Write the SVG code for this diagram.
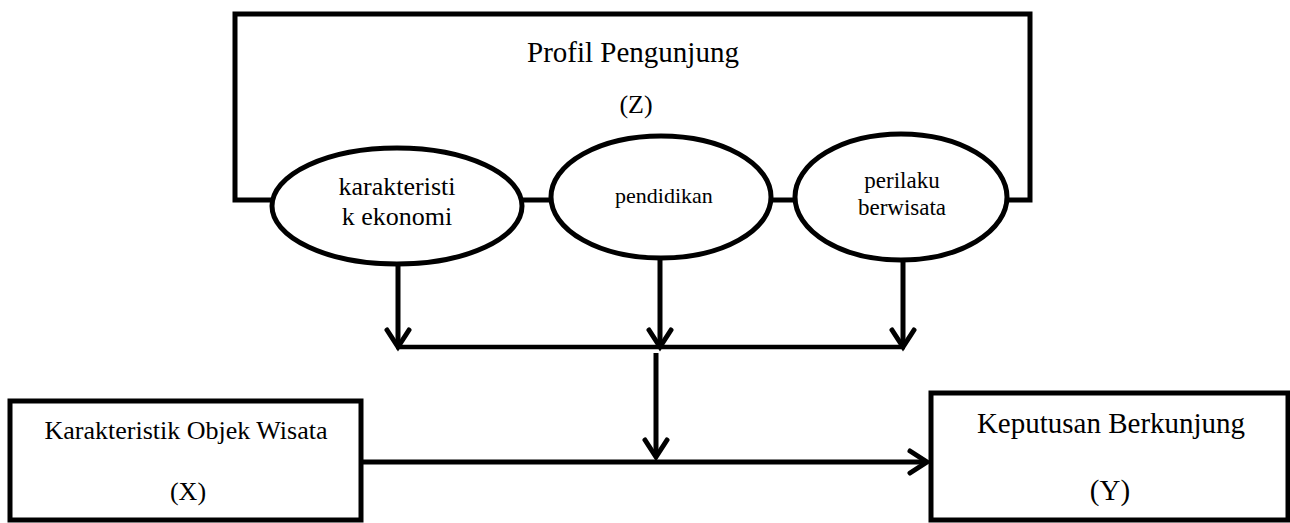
<svg xmlns="http://www.w3.org/2000/svg" width="1290" height="523" viewBox="0 0 1290 523">
<style>
.ln{fill:none;stroke:#000;stroke-width:5}
.shape{fill:#fff;stroke:#000;stroke-width:5}
text{font-family:"Liberation Serif","Times New Roman",serif;fill:#000;text-anchor:middle}
</style>
<defs>
<marker id="arr" markerUnits="userSpaceOnUse" markerWidth="40" markerHeight="40" viewBox="-25 -20 40 40" refX="0" refY="0" orient="auto" overflow="visible">
<path d="M-17,-11 L0,0 L-17,11" fill="none" stroke="#000" stroke-width="5" stroke-linecap="round" stroke-linejoin="miter"/>
</marker>
</defs>
<rect width="1290" height="523" fill="#fff"/>
<g id="connectors">
<path class="ln" d="M272,200 L235,200 L235,14 L1030,14 L1030,200 L1006,200"/>
<path class="ln" d="M521,200 L552,200"/>
<path class="ln" d="M770,200 L797,200"/>
<path class="ln" d="M398,263 L398,347" marker-end="url(#arr)"/>
<path class="ln" d="M660,257 L660,347" marker-end="url(#arr)"/>
<path class="ln" d="M903,259 L903,347" marker-end="url(#arr)"/>
<path class="ln" d="M396,347 L905,347" style="stroke-width:4.5"/>
<path class="ln" d="M656,353 L656,457" marker-end="url(#arr)"/>
<path class="ln" d="M363,462 L927,462" marker-end="url(#arr)"/>
</g>
<g id="profil">
<text x="633" y="62" font-size="29">Profil Pengunjung</text>
<text x="636" y="113" font-size="26">(Z)</text>
</g>
<g id="ekonomi">
<ellipse class="shape" cx="397" cy="206" rx="125" ry="58"/>
<text x="397" y="195" font-size="26">karakteristi</text>
<text x="397" y="225" font-size="26">k ekonomi</text>
</g>
<g id="pendidikan">
<ellipse class="shape" cx="661" cy="197" rx="110" ry="61"/>
<text x="664" y="203" font-size="22">pendidikan</text>
</g>
<g id="perilaku">
<ellipse class="shape" cx="901" cy="197" rx="106" ry="63"/>
<text x="902" y="188" font-size="23">perilaku</text>
<text x="902" y="215" font-size="23">berwisata</text>
</g>
<g id="objek">
<rect class="shape" x="10" y="401" width="351" height="119"/>
<text x="186" y="439" font-size="26">Karakteristik Objek Wisata</text>
<text x="188" y="500" font-size="26">(X)</text>
</g>
<g id="keputusan">
<rect class="shape" x="931" y="393" width="357" height="127"/>
<text x="1111" y="433" font-size="29">Keputusan Berkunjung</text>
<text x="1110" y="500" font-size="29">(Y)</text>
</g>
</svg>
